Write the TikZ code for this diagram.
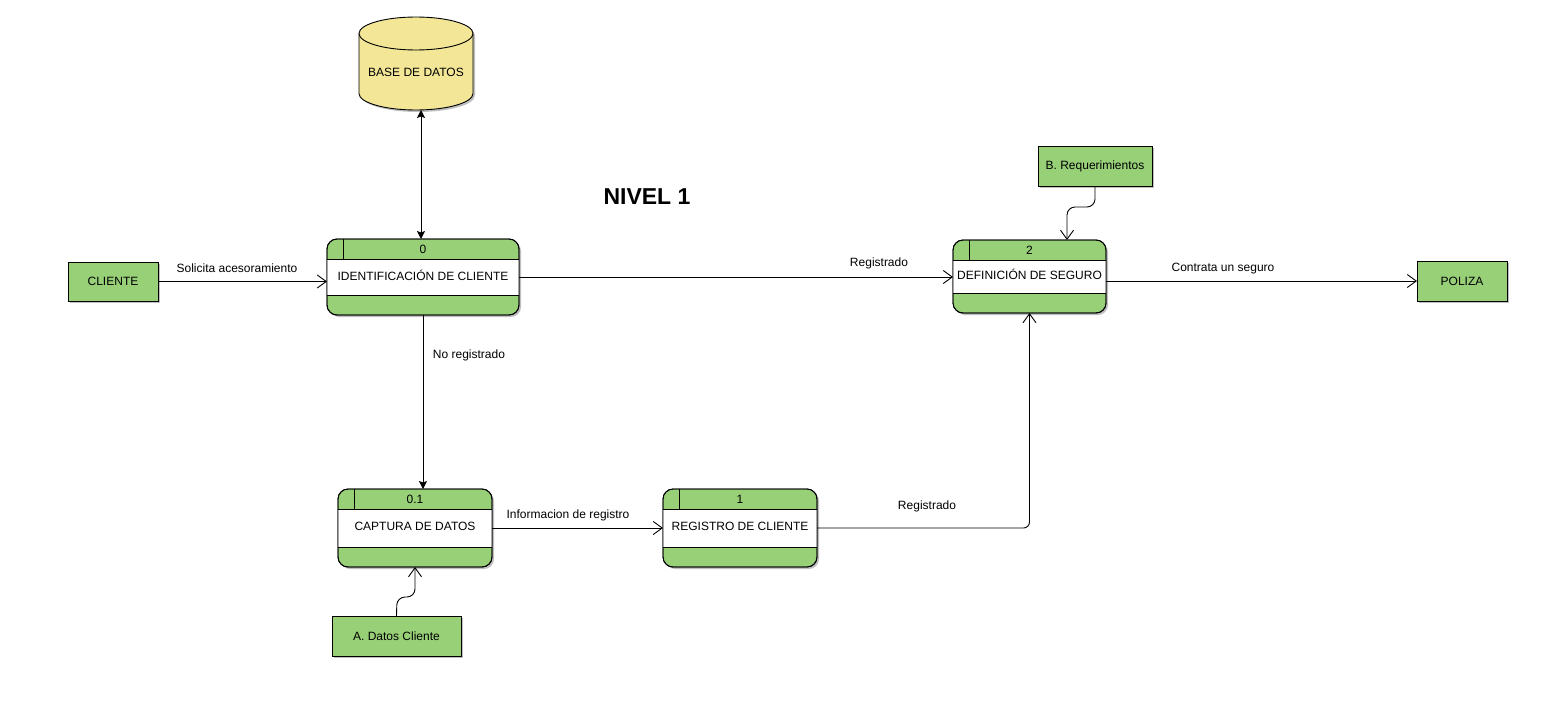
\documentclass[tikz,border=0pt]{standalone}
\usepackage{fontspec}
\setmainfont{Liberation Sans}
\usetikzlibrary{arrows.meta,shadows,calc}
\definecolor{dfdgreen}{HTML}{97D077}
\definecolor{dbyellow}{HTML}{F3E797}
\tikzset{
  shad/.style={drop shadow={shadow xshift=2pt,shadow yshift=-2pt,opacity=0.25,fill=black}},
  proc/.style={draw, fill=dfdgreen, rounded corners=10pt, inner sep=0pt, outer sep=0pt, shad, line width=0.9pt},
  ent/.style={draw, fill=dfdgreen, inner sep=0pt, outer sep=0pt, shad, font=\fontsize{12}{14}\selectfont, line width=0.9pt},
  txt/.style={font=\fontsize{12}{14}\selectfont, inner sep=0pt},
  thin/.style={line width=0.9pt},
  flow/.style={line width=0.9pt, -{Straight Barb[length=9pt,width=13pt]}},
  dflow/.style={line width=0.9pt, -{Stealth[length=8pt,width=8pt,inset=1.5pt]}},
  bflow/.style={line width=0.9pt, {Stealth[length=8pt,width=8pt,inset=1.5pt]}-{Stealth[length=8pt,width=8pt,inset=1.5pt]}},
}
% name, cx, cy, w, h, number, text
\newcommand\procbox[7]{%
  \node[proc, minimum width=#4pt, minimum height=#5pt] (#1) at (#2,#3) {};
  \fill[white] ([yshift=-20pt]#1.north west) rectangle ([yshift=20pt]#1.south east);
  \draw[thin] ([yshift=-20pt]#1.north west) -- ([yshift=-20pt]#1.north east);
  \draw[thin] ([yshift=20pt]#1.south west) -- ([yshift=20pt]#1.south east);
  \draw[thin] ([xshift=16pt]#1.north west) -- ([xshift=16pt,yshift=-20pt]#1.north west);
  \draw[thin, rounded corners=10pt] (#1.north west) rectangle (#1.south east);
  \node[txt] (#1num) at ([yshift=-10pt]#1.north) {#6};
  \node[txt] (#1txt) at ([yshift=2pt]#1.center) {#7};
}
\begin{document}
\begin{tikzpicture}[x=1pt,y=-1pt]
\useasboundingbox (0,0) rectangle (1555,712);

% database cylinder
\path[fill=dbyellow, draw, thin, shad]
  (359,33.5) -- (359,93.5) arc[start angle=180, end angle=360, x radius=57pt, y radius=16.5pt]
  -- (473,33.5) arc[start angle=0, end angle=180, x radius=57pt, y radius=16.5pt] -- cycle;
\draw[thin] (359,33.5) arc[start angle=180, end angle=360, x radius=57pt, y radius=16.5pt];
\node[minimum width=114pt, minimum height=93pt, inner sep=0pt, outer sep=0pt] (db) at (416,63.5) {};
\node[txt] (dblabel) at (416,72) {BASE DE DATOS};

% title
\node[font=\fontsize{23}{26}\selectfont\bfseries, inner sep=0pt] (title) at (647,197) {NIVEL 1};

% processes
\procbox{pA}{423}{277}{192}{76}{0}{IDENTIFICACIÓN DE CLIENTE}
\procbox{pB}{1029.5}{276.5}{153}{73}{2}{DEFINICIÓN DE SEGURO}
\procbox{pC}{415}{528}{154}{78}{0.1}{CAPTURA DE DATOS}
\procbox{pD}{740}{528}{154}{78}{1}{REGISTRO DE CLIENTE}

% external entities
\node[ent, minimum width=90pt, minimum height=39pt] (cliente) at (113,281.5) {CLIENTE};
\node[ent, minimum width=90pt, minimum height=40pt] (poliza) at (1462,281) {POLIZA};
\node[ent, minimum width=114pt, minimum height=40pt] (breq) at (1095,166) {B. Requerimientos};
\node[ent, minimum width=129pt, minimum height=40pt] (adatos) at (396.5,636) {A. Datos Cliente};

% connectors
\draw[flow] (cliente.east) -- (cliente.east -| pA.west);
\node[txt] (l1) at (237,268) {Solicita acesoramiento};

\draw[flow] (pA.east) -- (pA.east -| pB.west);
\node[txt] (l2) at (879,263) {Registrado};

\draw[flow] (pB.east |- poliza.west) -- (poliza.west);
\node[txt] (l3) at (1223,269) {Contrata un seguro};

\draw[bflow] ([xshift=5pt]db.south) -- ([xshift=5pt]db.south |- pA.north);

\draw[dflow] (pA.south) -- (pA.south |- pC.north);
\node[txt] (l4) at (469,355) {No registrado};

\draw[flow] (pC.east) -- (pD.west);
\node[txt] (l5) at (568,515) {Informacion de registro};

\draw[flow, rounded corners=6pt] (pD.east) -| (pB.south);
\node[txt] (l6) at (927,506) {Registrado};

\coordinate (bq1) at (1095,207);
\coordinate (bq2) at (1067,207);
\draw[flow, rounded corners=8pt] (breq.south) -- (bq1) -- (bq2) -- (bq2 |- pB.north);

\coordinate (ad1) at (397,597);
\coordinate (ad2) at (415,597);
\draw[flow, rounded corners=8pt] (adatos.north) -- (ad1) -- (ad2) -- (ad2 |- pC.south);
\end{tikzpicture}
\end{document}
